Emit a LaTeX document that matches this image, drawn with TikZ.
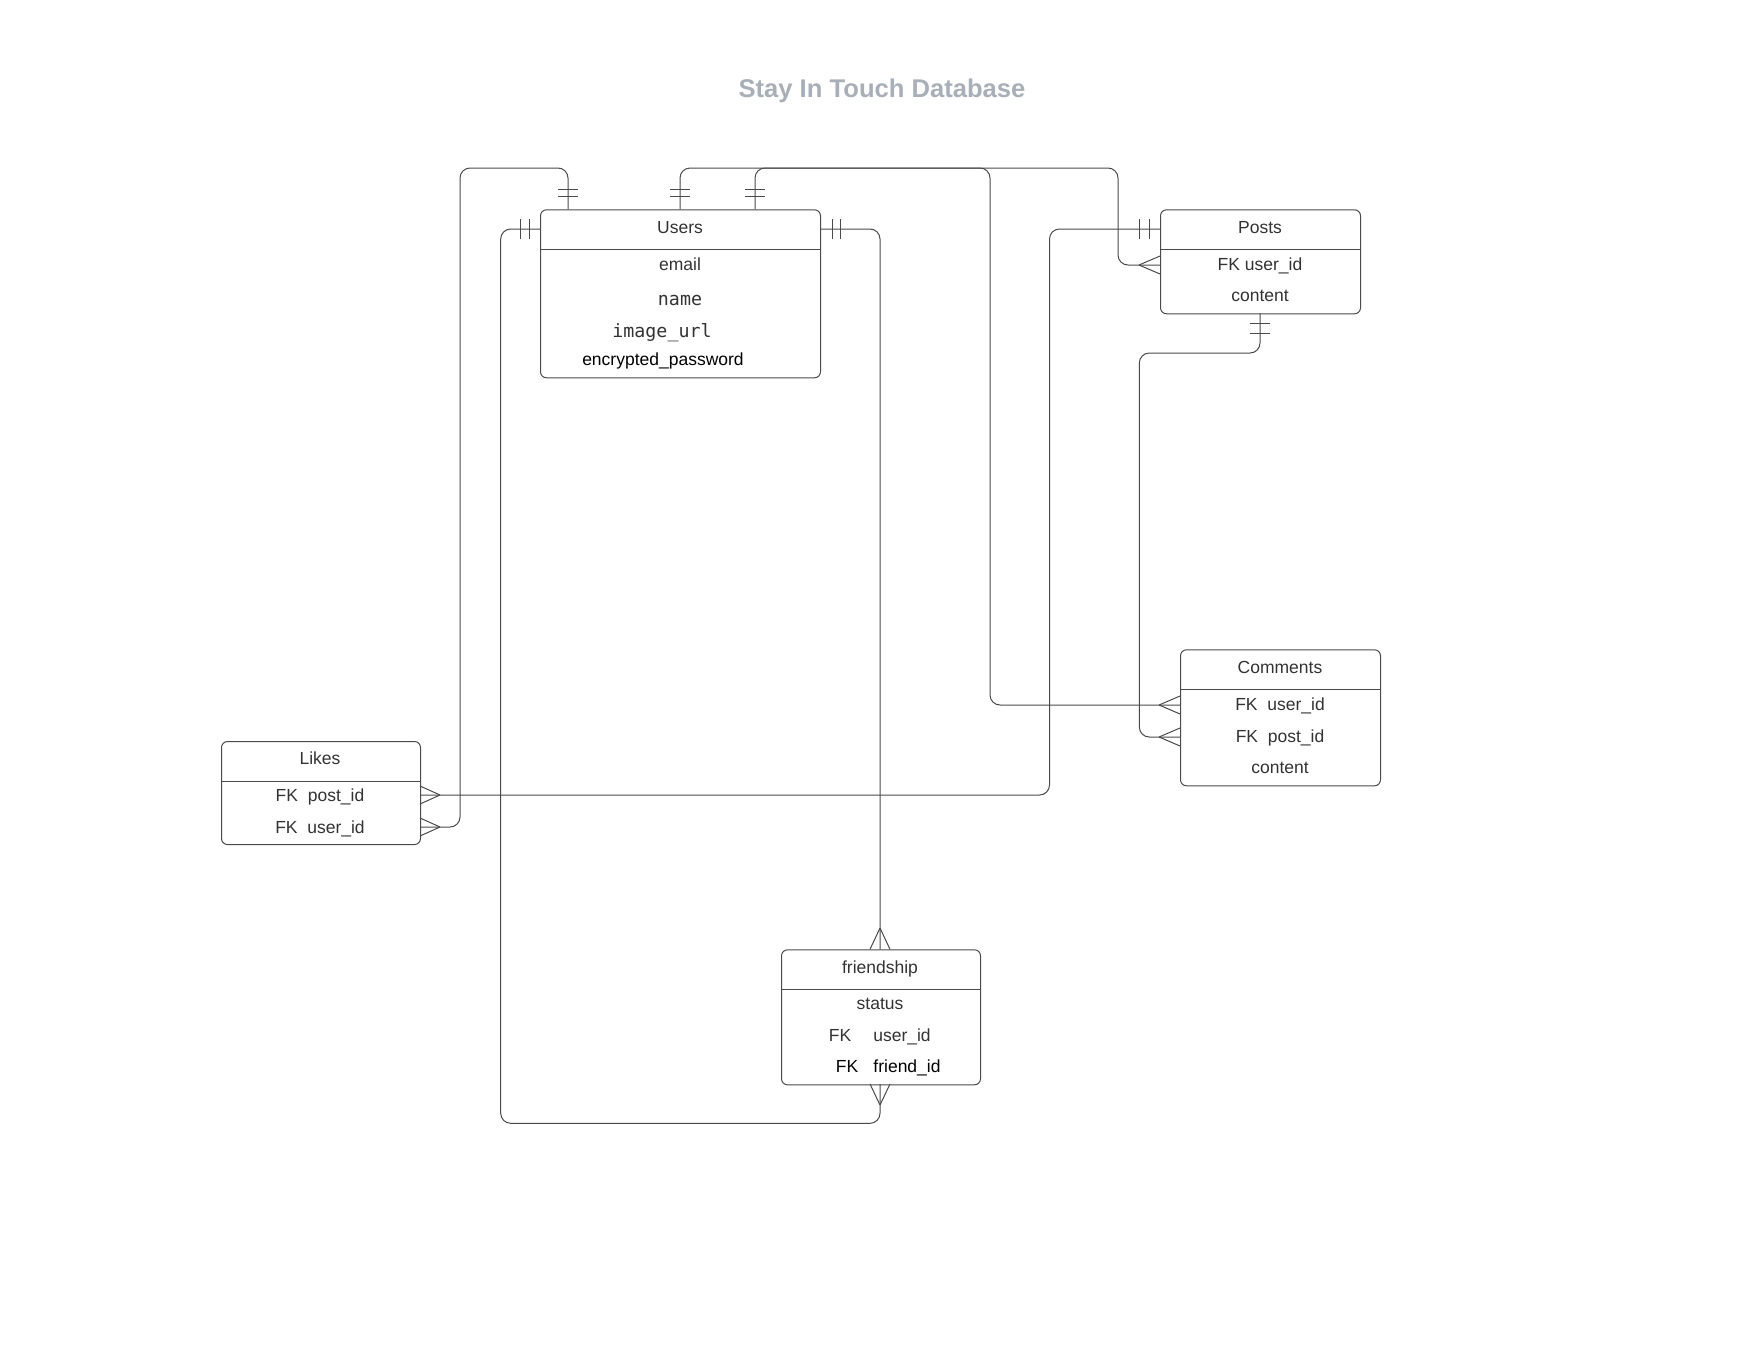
\documentclass[tikz,border=0pt]{standalone}
\usepackage{fontspec}
\setmainfont{Liberation Sans}
\newfontfamily\monofont{DejaVu Sans Mono}
\usetikzlibrary{calc}
\definecolor{linec}{HTML}{4A4A4A}
\definecolor{txt}{HTML}{333333}
\definecolor{titlec}{HTML}{A9AFB8}
\newcommand\bodyfs{\fontsize{17.5}{20}\selectfont}
\newcommand\monofs{\fontsize{18.3}{21}\selectfont\monofont}
\tikzset{
  ent/.style={draw=linec, line width=1pt, rounded corners=6pt, inner sep=0pt, anchor=north west},
  sep/.style={draw=linec, line width=1pt},
  conn/.style={draw=linec, line width=1pt, rounded corners=10pt},
  ermark/.style={draw=linec, line width=1pt},
  lbl/.style={font=\bodyfs, text=txt, inner sep=0pt, anchor=base},
  lblk/.style={font=\bodyfs, text=black, inner sep=0pt, anchor=base},
}
\begin{document}
\begin{tikzpicture}[x=1pt,y=-1pt]
\useasboundingbox[fill=white] (0,0) rectangle (1760,1360);

% title
\node[font=\fontsize{25.6}{30}\selectfont\bfseries, text=titlec, inner sep=0pt, anchor=base] (title) at (882,97.8) {Stay In Touch Database};

% ---------- Users ----------
\node[ent, minimum width=280pt, minimum height=168pt] (users) at (540,209.3) {};
\draw[sep] (540,249) -- (820,249);
\node[lbl] (uT) at (680,233.5) {Users};
\node[lbl] (uE) at (680,270.5) {email};
\node[lbl, font=\monofs] (uN) at (680,305) {name};
\node[lbl, font=\monofs] (uI) at (662,337) {image\_url};
\node[lblk] (uP) at (663,365.5) {encrypted\_password};

% ---------- Posts ----------
\node[ent, minimum width=200pt, minimum height=104pt] (posts) at (1160,209.3) {};
\draw[sep] (1160,249) -- (1360,249);
\node[lbl] (pT) at (1260,233.5) {Posts};
\node[lbl] (pU) at (1260,270) {FK user\_id};
\node[lbl] (pC) at (1260,301.5) {content};

% ---------- Comments ----------
\node[ent, minimum width=200pt, minimum height=136pt] (comments) at (1180,649.3) {};
\draw[sep] (1180,689.3) -- (1380,689.3);
\node[lbl] (cT) at (1280,673.5) {Comments};
\node[lbl] (cU) at (1280,710.5) {FK\ \ user\_id};
\node[lbl] (cP) at (1280,742.5) {FK\ \ post\_id};
\node[lbl] (cC) at (1280,773.5) {content};

% ---------- Likes ----------
\node[ent, minimum width=199pt, minimum height=103pt] (likes) at (221,741) {};
\draw[sep] (221,781) -- (420,781);
\node[lbl] (lT) at (320,764.5) {Likes};
\node[lbl] (lP) at (320,801.5) {FK\ \ post\_id};
\node[lbl] (lU) at (320,833.5) {FK\ \ user\_id};

% ---------- friendship ----------
\node[ent, minimum width=199pt, minimum height=135pt] (friend) at (781,949.3) {};
\draw[sep] (781,989.3) -- (980,989.3);
\node[lbl] (fT) at (880,973.5) {friendship};
\node[lbl] (fS) at (880,1009.5) {status};
\node[lbl] (fK1) at (840,1041.5) {FK};
\node[lbl] (fU) at (902,1041.5) {user\_id};
\node[lblk] (fK2) at (847,1072.5) {FK};
\node[lblk] (fF) at (907,1072.5) {friend\_id};

% ---------- connectors ----------
% Likes.user_id -- Users (top, x=568)
\coordinate (lu) at (420,827);
\coordinate (ut1) at (568,209.3);
\draw[conn] (lu) -- (460,827) -- (460,168) -- (568,168) -- (ut1);
\draw[ermark] (440,827) -- (420,818) (440,827) -- (420,836);
\draw[ermark] (558,189) -- (578,189) (558,196) -- (578,196);

% Likes.post_id -- Posts (left, y=229)
\coordinate (lp) at (420,795);
\coordinate (pl) at (1160,229);
\draw[conn] (lp) -- (1049.5,795) -- (1049.5,229) -- (pl);
\draw[ermark] (440,795) -- (420,786) (440,795) -- (420,804);
\draw[ermark] (1139,219) -- (1139,239) (1149,219) -- (1149,239);

% Users (top, x=680) -- Posts.user_id
\coordinate (ut2) at (680,209.3);
\coordinate (pu) at (1160,265);
\draw[conn] (ut2) -- (680,168) -- (1118,168) -- (1118,265) -- (pu);
\draw[ermark] (670,189) -- (690,189) (670,196) -- (690,196);
\draw[ermark] (1139,265) -- (1160,256) (1139,265) -- (1160,274);

% Users (top, x=755) -- Comments.user_id
\coordinate (ut3) at (755,209.3);
\coordinate (cu) at (1180,705);
\draw[conn] (ut3) -- (755,168) -- (990,168) -- (990,705) -- (cu);
\draw[ermark] (745,189) -- (765,189) (745,196) -- (765,196);
\draw[ermark] (1159,705) -- (1180,696) (1159,705) -- (1180,714);

% Posts (bottom) -- Comments.post_id
\coordinate (pb) at (1260,313.3);
\coordinate (cp) at (1180,737);
\draw[conn] (pb) -- (1260,353) -- (1139.3,353) -- (1139.3,737) -- (cp);
\draw[ermark] (1250,323) -- (1270,323) (1250,333) -- (1270,333);
\draw[ermark] (1159,737) -- (1180,728) (1159,737) -- (1180,746);

% Users (right) -- friendship (top)
\coordinate (ur) at (820,229);
\coordinate (ft) at (880,949.3);
\draw[conn] (ur) -- (880,229) -- (ft);
\draw[ermark] (832,219) -- (832,239) (840,219) -- (840,239);
\draw[ermark] (880,928) -- (870,949.3) (880,928) -- (890,949.3);

% Users (left) -- friendship (bottom)
\coordinate (ul) at (540,229);
\coordinate (fb) at (880,1084);
\draw[conn] (ul) -- (500.7,229) -- (500.7,1123.3) -- (880,1123.3) -- (fb);
\draw[ermark] (520,219) -- (520,239) (529,219) -- (529,239);
\draw[ermark] (880,1105) -- (870,1084) (880,1105) -- (890,1084);
\end{tikzpicture}
\end{document}
